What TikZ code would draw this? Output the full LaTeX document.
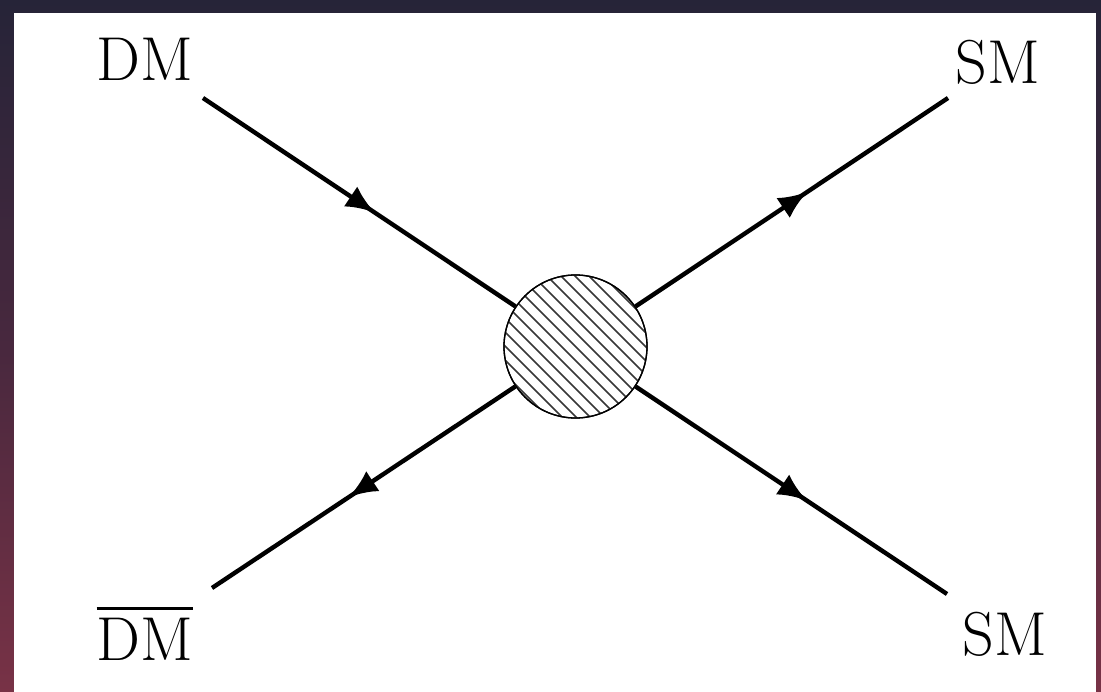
\documentclass[tikz,border=0pt]{standalone}
\usetikzlibrary{arrows.meta,decorations.markings,calc}
\definecolor{skytop}{RGB}{38,36,56}
\definecolor{skymid}{RGB}{72,40,62}
\definecolor{skybot}{RGB}{120,50,70}
\definecolor{hatchgray}{RGB}{55,55,55}
\begin{document}
\begin{tikzpicture}[x=1pt,y=-1pt,
  lbl/.style={inner sep=0pt,font=\fontsize{62pt}{72pt}\selectfont},
  prop/.style={line width=4.4pt,postaction={decorate},
    decoration={markings,mark=at position 0.55 with {\arrow{Latex[length=29pt,width=24pt]}}}},
  blobstyle/.style={circle,draw,line width=1.3pt,minimum size=143pt,inner sep=0pt}]
\useasboundingbox (0,0) rectangle (1101,692);
\shade[top color=skytop,bottom color=skybot,middle color=skymid] (0,0) rectangle (1101,692);
\fill[white] (14,13) rectangle (1096,692);
% endpoints
\coordinate (a) at (203,98);
\coordinate (b) at (212,588);
\coordinate (c) at (948,98);
\coordinate (d) at (947,594);
\node[blobstyle] (blob) at (575.5,346.5) {};
\begin{scope}
  \clip (575.5,346.5) circle (71.5pt);
  \foreach \k in {-11,...,11}{
    \draw[hatchgray,line width=1.7pt] ($(575.5,346.5)+(\k*7,-\k*7)+(-90,-90)$) -- ($(575.5,346.5)+(\k*7,-\k*7)+(90,90)$);
  }
\end{scope}
\node[blobstyle] at (575.5,346.5) {};
\draw[prop] (a) -- (blob);
\draw[prop] (blob) -- (b);
\draw[prop] (blob) -- (c);
\draw[prop] (blob) -- (d);
\node[lbl] (la) at (145,59) {DM};
\node[lbl] (lc) at (998,62) {SM};
\node[lbl] (ld) at (1005,634) {SM};
\node[lbl,anchor=base] (lb) at (145,660) {DM};
\draw[line width=2.2pt] ($(lb.north west)+(0,-9)$) -- ($(lb.north east)+(0,-9)$);
\end{tikzpicture}
\end{document}
